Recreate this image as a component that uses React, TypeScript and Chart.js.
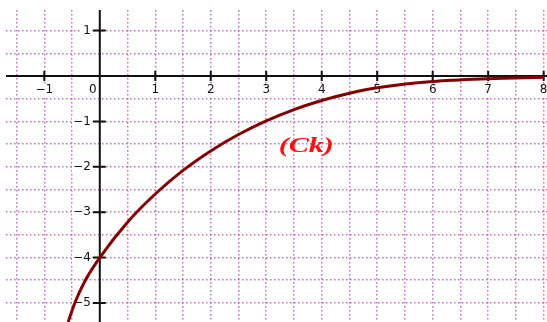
import React, { useEffect, useRef } from 'react';
import { Chart, registerables } from 'chart.js';

Chart.register(...registerables);

// Curve (Ck)
const curveX = [-0.57, -0.45, -0.25, 0, 0.5, 1, 1.5, 2, 2.5, 3, 3.5, 4, 4.5, 5, 6, 7, 8];
const curveY = [-5.42, -5.0, -4.48, -4, -3.22, -2.6, -2.08, -1.65, -1.29, -0.99, -0.74, -0.54, -0.38, -0.26, -0.12, -0.06, -0.03];

// Axis ticks and labels
const xTickValues = [-1, 1, 2, 3, 4, 5, 6, 7, 8];
const xTickLabels = ['−1', '1', '2', '3', '4', '5', '6', '7', '8'];
const yTickValues = [1, -1, -2, -3, -4, -5];
const yTickLabels = ['1', '−1', '−2', '−3', '−4', '−5'];
const originLabel = '0';

// Dotted grid lines (every half unit)
const gridX = [-1.5, -1, -0.5, 0, 0.5, 1, 1.5, 2, 2.5, 3, 3.5, 4, 4.5, 5, 5.5, 6, 6.5, 7, 7.5, 8];
const gridY = [1, 0.5, 0, -0.5, -1, -1.5, -2, -2.5, -3, -3.5, -4, -4.5, -5];

// Visible window
const xRange = [-1.69, 8.06];
const yRange = [-5.42, 1.454];

// Curve name
const curveLabel = '(Ck)';
const curveLabelAt = [3.72, -1.56];

const axesPlugin = {
  id: 'mathAxes',
  beforeDatasetsDraw(chart: any) {
    const { ctx, chartArea, scales } = chart;
    const xs = scales.x;
    const ys = scales.y;
    const x0 = xs.getPixelForValue(0);
    const y0 = ys.getPixelForValue(0);
    ctx.save();
    ctx.strokeStyle = '#111';
    ctx.lineWidth = 2;
    ctx.beginPath();
    ctx.moveTo(chartArea.left, y0);
    ctx.lineTo(chartArea.right, y0);
    ctx.moveTo(x0, chartArea.top);
    ctx.lineTo(x0, chartArea.bottom);
    ctx.stroke();

    ctx.beginPath();
    xTickValues.forEach((v) => {
      const px = xs.getPixelForValue(v);
      ctx.moveTo(px, y0 - 5);
      ctx.lineTo(px, y0 + 5);
    });
    yTickValues.forEach((v) => {
      const py = ys.getPixelForValue(v);
      ctx.moveTo(x0 - 7, py);
      ctx.lineTo(x0 + 6, py);
    });
    ctx.stroke();

    ctx.font = '12px "DejaVu Sans"';
    ctx.textBaseline = 'middle';
    const drawLabel = (text: string, x: number, y: number, align: 'center' | 'right') => {
      const w = ctx.measureText(text).width;
      const left = align === 'center' ? x - w / 2 : x - w;
      ctx.fillStyle = '#fff';
      ctx.fillRect(left - 1, y - 6, w + 2, 12);
      ctx.fillStyle = '#111';
      ctx.textAlign = align;
      ctx.fillText(text, x, y);
    };
    xTickValues.forEach((v, i) => {
      drawLabel(xTickLabels[i], xs.getPixelForValue(v), y0 + 14, 'center');
    });
    yTickValues.forEach((v, i) => {
      drawLabel(yTickLabels[i], x0 - 9, ys.getPixelForValue(v), 'right');
    });
    drawLabel(originLabel, x0 - 7, y0 + 14, 'center');
    ctx.restore();
  },
  afterDatasetsDraw(chart: any) {
    const { ctx, scales } = chart;
    const px = scales.x.getPixelForValue(curveLabelAt[0]);
    const py = scales.y.getPixelForValue(curveLabelAt[1]);
    ctx.save();
    ctx.translate(px, py);
    ctx.scale(1.5, 1);
    ctx.font = 'italic bold 20px "Liberation Serif"';
    ctx.fillStyle = '#ff1010';
    ctx.textAlign = 'center';
    ctx.textBaseline = 'middle';
    ctx.fillText(curveLabel, 0, 0);
    ctx.restore();
  },
};

export default function App() {
  const canvasRef = useRef<HTMLCanvasElement | null>(null);

  useEffect(() => {
    if (!canvasRef.current) return;
    const gridColor = 'rgba(180, 70, 180, 0.8)';
    const chart = new Chart(canvasRef.current, {
      type: 'scatter',
      data: {
        datasets: [
          {
            data: curveX.map((x, i) => ({ x, y: curveY[i] })),
            showLine: true,
            borderColor: '#820000',
            borderWidth: 3,
            pointRadius: 0,
            cubicInterpolationMode: 'monotone',
            fill: false,
          },
        ],
      },
      options: {
        animation: false,
        responsive: false,
        layout: { padding: { left: 6, top: 10, right: 0, bottom: 0 } },
        plugins: { legend: { display: false }, tooltip: { enabled: false } },
        scales: {
          x: {
            type: 'linear',
            min: xRange[0],
            max: xRange[1],
            afterBuildTicks: (s: any) => {
              s.ticks = gridX.map((v) => ({ value: v }));
            },
            ticks: { display: false },
            grid: { color: gridColor, lineWidth: 1.5, drawTicks: false },
            border: { display: false, dash: [1.5, 2.5] },
          },
          y: {
            type: 'linear',
            min: yRange[0],
            max: yRange[1],
            afterBuildTicks: (s: any) => {
              s.ticks = gridY.map((v) => ({ value: v }));
            },
            ticks: { display: false },
            grid: { color: gridColor, lineWidth: 1.5, drawTicks: false },
            border: { display: false, dash: [1.5, 2.5] },
          },
        },
      } as any,
      plugins: [axesPlugin],
    });
    return () => chart.destroy();
  }, []);

  return (
    <canvas
      ref={canvasRef}
      width={547}
      height={322}
      style={{ position: 'absolute', left: 0, top: 0, width: 547, height: 322, display: 'block', background: '#fff' }}
    />
  );
}
